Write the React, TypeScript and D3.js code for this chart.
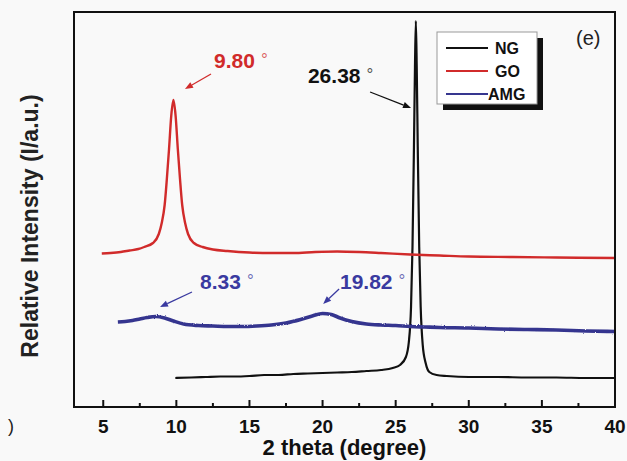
import React from "react";
import * as d3 from "d3";

// ---- data (2θ in degrees, intensity in arbitrary units) ----
const NG_X = [9.93, 11, 12, 13, 14, 15, 16, 17, 18, 19, 20, 21, 22, 23, 24, 24.8, 25.3, 25.7, 25.9, 26.05, 26.15, 26.25, 26.32, 26.38, 26.44, 26.51, 26.61, 26.71, 26.85, 27.05, 27.3, 27.8, 28.5, 30, 32, 34, 36, 38, 40];
const NG_I = [29, 29.5, 30, 30.5, 30.5, 31, 32, 32, 33, 33.5, 34, 34.5, 35, 36, 37, 39, 42, 50, 65, 100, 160, 260, 340, 386, 340, 260, 160, 100, 62, 44, 35, 32, 31, 30, 30, 29.5, 29.5, 29, 29];

const GO_X = [4.9, 5.5, 6.2, 6.8, 7.4, 7.8, 8.4, 8.8, 9.0, 9.2, 9.35, 9.5, 9.65, 9.8, 9.95, 10.1, 10.25, 10.4, 10.6, 10.8, 11.2, 11.8, 12.5, 13.5, 15, 16.5, 18, 19.5, 21, 22.5, 24, 26, 28, 30, 33, 36, 40];
const GO_I = [153.5, 154, 155, 156.5, 158, 160, 164, 173, 184, 202, 228, 258, 291, 307, 291, 258, 228, 202, 184, 173, 164, 160, 157.5, 156, 154.5, 154, 154, 155, 155.5, 155, 154, 152.5, 151.5, 150.5, 150, 149.5, 149];

const AMG_X = [6.0, 6.5, 7.0, 7.5, 8.0, 8.6, 9.2, 9.8, 10.5, 11.5, 12.5, 13.5, 14.5, 15.5, 16.5, 17.5, 18.5, 19.3, 20.0, 20.6, 21.2, 22.0, 23.0, 24.0, 25.0, 26.0, 27.0, 28.0, 30.0, 32.0, 34.0, 36.0, 38.0, 40.0];
const AMG_I = [85, 85.5, 86.5, 88, 89.5, 90.5, 89, 86, 83, 81.5, 81, 80.5, 80.5, 81, 82, 84, 87.5, 91, 93.5, 92.5, 89, 85.5, 83, 82, 81.5, 80.5, 80, 79.5, 79, 78, 77.5, 77, 76, 75.5];

const SERIES_NAMES = ["NG", "GO", "AMG"];
const SERIES_COLORS = ["#111111", "#d12b2b", "#36368f"];
const SERIES_WIDTHS = [2.2, 2.4, 3.6];

const MAJOR_TICKS = [5, 10, 15, 20, 25, 30, 35, 40];
const MINOR_TICKS = [7.5, 12.5, 17.5, 22.5, 27.5, 32.5, 37.5];

// annotations: label, text anchor (2θ, I), arrow start, arrow end
const ANN_LABELS = ["9.80", "26.38", "8.33", "19.82"];
const ANN_COLORS = ["#d12b2b", "#111111", "#3a3aa0", "#3a3aa0"];
const ANN_TEXT = [[12.58, 339], [19.0, 324], [11.62, 118], [21.19, 118]];
const ANN_FROM = [[12.37, 333], [23.25, 315], [11.07, 115], [21.13, 118]];
const ANN_TO = [[10.59, 318], [26.05, 299], [8.88, 100], [20.04, 103]];

const W = 627, H = 461;
const FONT = "'Liberation Sans', Arial, Helvetica, sans-serif";

export default function App() {
  const x = d3.scaleLinear().domain([3, 40]).range([74, 615]);
  const y = d3.scaleLinear().domain([0, 395]).range([407, 12]);
  const line = d3
    .line<[number, number]>()
    .x((d) => x(d[0]))
    .y((d) => y(d[1]))
    .curve(d3.curveMonotoneX);

  const series = [
    NG_X.map((v, i) => [v, NG_I[i]] as [number, number]),
    GO_X.map((v, i) => [v, GO_I[i]] as [number, number]),
    AMG_X.map((v, i) => [v, AMG_I[i]] as [number, number]),
  ];

  const x0 = x.range()[0], x1 = x.range()[1];
  const y0 = y.range()[0], y1 = y.range()[1];

  // legend box
  const lx = 437, ly = 32, lw = 100, lh = 72;
  const rowY = [48, 71, 94];

  const arrowHead = (fx: number, fy: number, tx: number, ty: number, color: string, key: string) => {
    const ang = Math.atan2(ty - fy, tx - fx);
    const L = 8, Wd = 3.2;
    const bx = tx - L * Math.cos(ang), by = ty - L * Math.sin(ang);
    const px = -Math.sin(ang) * Wd, py = Math.cos(ang) * Wd;
    return (
      <g key={key}>
        <line x1={fx} y1={fy} x2={bx} y2={by} stroke={color} strokeWidth={1.3} />
        <polygon points={`${tx},${ty} ${bx + px},${by + py} ${bx - px},${by - py}`} fill={color} />
      </g>
    );
  };

  return (
    <svg width={W} height={H} style={{ position: "absolute", left: 0, top: 0, background: "#f9f9f9" }} fontFamily={FONT}>
      <rect x={0} y={0} width={W} height={H} fill="#f9f9f9" />
      <defs>
        <clipPath id="plot">
          <rect x={x0} y={y1} width={x1 - x0} height={y0 - y1} />
        </clipPath>
        <filter id="rough" x="-5%" y="-20%" width="110%" height="140%">
          <feTurbulence type="fractalNoise" baseFrequency="0.9" numOctaves={1} seed={3} result="n" />
          <feDisplacementMap in="SourceGraphic" in2="n" scale={2.2} xChannelSelector="R" yChannelSelector="G" />
        </filter>
      </defs>

      {/* series */}
      <g clipPath="url(#plot)">
        {series.map((s, i) => (
          <path key={SERIES_NAMES[i]} d={line(s) || ""} fill="none" stroke={SERIES_COLORS[i]} strokeWidth={SERIES_WIDTHS[i]} strokeLinejoin="round" filter={i === 2 ? "url(#rough)" : undefined} />
        ))}
      </g>

      {/* frame */}
      <rect x={x0} y={y1} width={x1 - x0} height={y0 - y1} fill="none" stroke="#111" strokeWidth={2} />

      {/* ticks */}
      {MAJOR_TICKS.map((t) => (
        <g key={"M" + t}>
          {t < 40 && <line x1={x(t)} x2={x(t)} y1={y0} y2={y0 - 7} stroke="#111" strokeWidth={2} />}
          <text x={x(t)} y={433} textAnchor="middle" fontSize={19} fontWeight="bold" fill="#111">{t}</text>
        </g>
      ))}
      {MINOR_TICKS.map((t) => (
        <line key={"m" + t} x1={x(t)} x2={x(t)} y1={y0} y2={y0 - 4} stroke="#111" strokeWidth={2} />
      ))}

      {/* axis titles */}
      <text x={(x0 + x1) / 2} y={455} textAnchor="middle" fontSize={22} fontWeight="bold" fill="#111">2 theta (degree)</text>
      <text transform={`translate(38,226) rotate(-90)`} textAnchor="middle" fontSize={23} fontWeight="bold" fill="#222">Relative Intensity (I/a.u.)</text>
      <text x={8} y={432} fontSize={18} fill="#222">)</text>

      {/* annotations */}
      {ANN_LABELS.map((lab, i) => (
        <g key={"a" + i}>
          <text x={x(ANN_TEXT[i][0])} y={y(ANN_TEXT[i][1])} fontSize={21} fontWeight="bold" fill={ANN_COLORS[i]}>
            {lab}
            <tspan dx={6} dy={-3} fontSize={17} fontWeight="normal" fillOpacity={0.75}>°</tspan>
          </text>
          {arrowHead(x(ANN_FROM[i][0]), y(ANN_FROM[i][1]), x(ANN_TO[i][0]), y(ANN_TO[i][1]), ANN_COLORS[i], "ar" + i)}
        </g>
      ))}

      {/* legend */}
      <rect x={lx + 6} y={ly + 6} width={lw} height={lh} fill="#111" />
      <rect x={lx} y={ly} width={lw} height={lh} fill="#fff" stroke="#999" strokeWidth={1} />
      {SERIES_NAMES.map((n, i) => (
        <g key={"lg" + n}>
          <line x1={lx + 9} x2={lx + 51} y1={rowY[i]} y2={rowY[i]} stroke={SERIES_COLORS[i]} strokeWidth={2} />
          <text x={i === 2 ? lx + 51 : lx + 58} y={rowY[i] + 6} fontSize={16} fontWeight="bold" fill="#111">{n}</text>
        </g>
      ))}
      <text x={576} y={45} fontSize={20} fill="#222">(e)</text>
    </svg>
  );
}
